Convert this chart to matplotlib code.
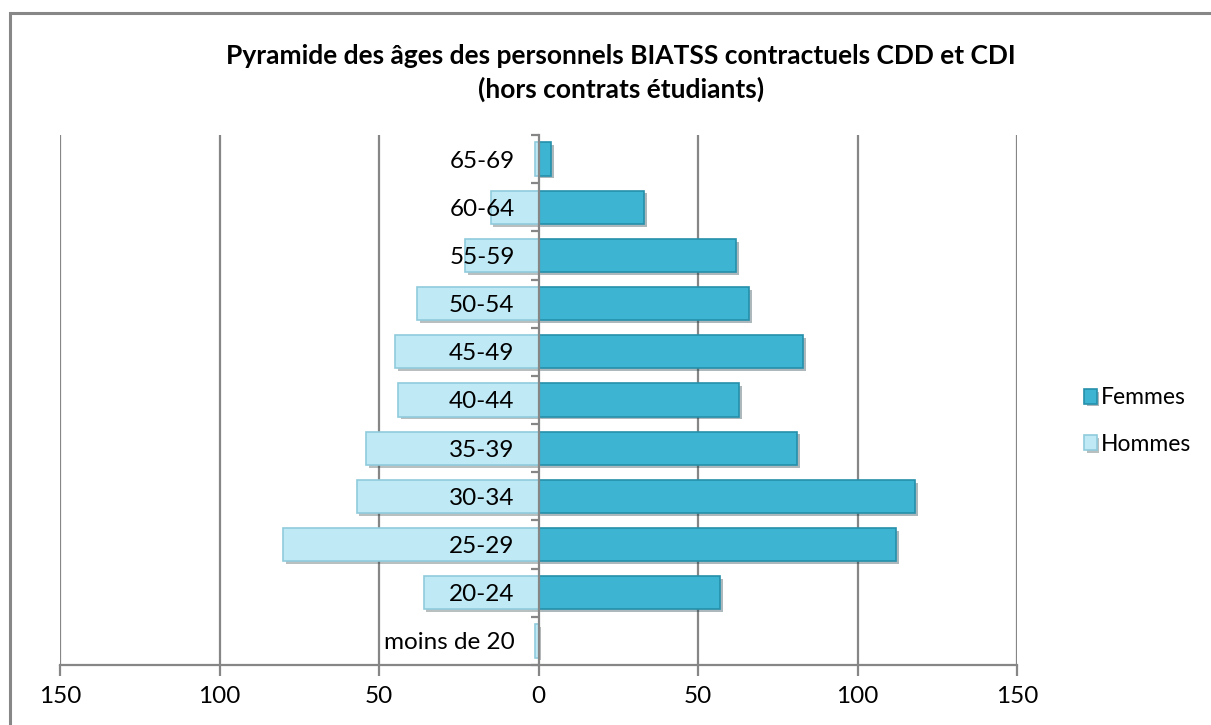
import numpy as np
import matplotlib
matplotlib.use("Agg")
import matplotlib.pyplot as plt
import matplotlib.patheffects as pe
from matplotlib.patches import Rectangle

plt.rcParams['font.family'] = ['Lato', 'DejaVu Sans']

# data
ages = ["moins de 20", "20-24", "25-29", "30-34", "35-39", "40-44",
        "45-49", "50-54", "55-59", "60-64", "65-69"]
hommes = [1, 36, 80, 57, 54, 44, 45, 38, 23, 15, 1]
femmes = [0, 57, 112, 118, 81, 63, 83, 66, 62, 33, 4]

fig = plt.figure(figsize=(12.11, 7.25), dpi=100)
ax = fig.add_axes([60/1211, 60/725, (1017-60)/1211, (665-135)/725])

y = np.arange(len(ages))
shadow = [pe.SimplePatchShadow(offset=(2, -2), alpha=0.35), pe.Normal()]

bh = ax.barh(y, [-v for v in hommes], height=0.69, color="#bfe9f4",
             edgecolor="#8fcbdc", linewidth=1.2, label="Hommes", zorder=2)
bf = ax.barh(y, femmes, height=0.69, color="#3cb4d2",
             edgecolor="#2690ab", linewidth=1.2, label="Femmes", zorder=2)
for b in list(bh) + list(bf):
    b.set_path_effects(shadow)

ax.set_xlim(-150, 150)
ax.set_ylim(-0.5, 10.5)
ax.set_xticks([-150, -100, -50, 0, 50, 100, 150])
ax.set_xticklabels(["150", "100", "50", "0", "50", "100", "150"], fontsize=17.5)
for xv in [-150, -100, -50, 50, 100, 150]:
    ax.axvline(xv, color="#868686", linewidth=1.6, zorder=0.5)

ax.spines['top'].set_visible(False)
ax.spines['right'].set_visible(False)
ax.spines['left'].set_position(('data', 0))
ax.spines['left'].set_color("#868686")
ax.spines['left'].set_linewidth(1.6)
ax.spines['left'].set_zorder(3)
ax.spines['bottom'].set_color("#868686")
ax.spines['bottom'].set_linewidth(1.6)

# category labels drawn on top of the bars
ax.set_yticks([])
for i, a in enumerate(ages):
    ax.text(-7.5, i, a, ha="right", va="center_baseline", fontsize=17.5, zorder=6)
ax.set_yticks(np.arange(-0.5, 11, 1), minor=True)
ax.tick_params(axis='y', which='minor', length=6, width=1.6, color="#868686")
ax.tick_params(axis='x', length=8, width=1.6, color="#868686", pad=7)

fig.text(0.5 + 0.013, 1 - 56/725, "Pyramide des âges des personnels BIATSS contractuels CDD et CDI",
         ha="center", va="center", fontsize=19, fontweight="bold")
fig.text(0.5 + 0.013, 1 - 89/725, "(hors contrats étudiants)",
         ha="center", va="center", fontsize=19, fontweight="bold")

leg = fig.legend(handles=[bf, bh], labels=["Femmes", "Hommes"],
                 loc="center left", bbox_to_anchor=(1084/1211, 1 - 421/725),
                 frameon=False, fontsize=16.5, handlelength=0.55, handleheight=0.6,
                 handletextpad=0.2, labelspacing=1.1, borderpad=0, borderaxespad=0)

fig.add_artist(Rectangle((10/1211, -0.2), 1.5, 1.2 - 13/725, transform=fig.transFigure,
                         fill=False, edgecolor="#878787", linewidth=2.2))

fig.savefig("out.png", dpi=100)
